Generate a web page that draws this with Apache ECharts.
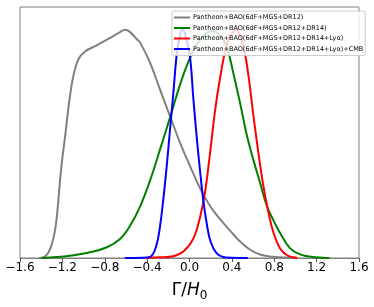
<!DOCTYPE html>
<html><head><meta charset="utf-8">
<script src="https://cdn.jsdelivr.net/npm/echarts@6/dist/echarts.min.js"></script>
<style>html,body{margin:0;padding:0;background:#fff}#c{width:374px;height:307px}</style>
</head><body><div id="c"></div>
<script>
const seriesNames = [
  'Pantheon+BAO(6dF+MGS+DR12)',
  'Pantheon+BAO(6dF+MGS+DR12+DR14)',
  'Pantheon+BAO(6dF+MGS+DR12+DR14+Lyα)',
  'Pantheon+BAO(6dF+MGS+DR12+DR14+Lyα)+CMB'
];
const xTicks = [-1.6, -1.2, -0.8, -0.4, 0.0, 0.4, 0.8, 1.2, 1.6];

const grayX = [-1.42,-1.37,-1.33,-1.30,-1.27,-1.25,-1.222,-1.2,-1.175,-1.153,-1.128,-1.097,-1.05,-0.986,-0.876,-0.766,-0.656,-0.61,-0.56,-0.5,-0.467,-0.372,-0.278,-0.184,-0.089,0.005,0.1,0.194,0.289,0.383,0.477,0.572,0.666,0.79,0.95,1.0];
const grayY = [0,0.005,0.025,0.06,0.12,0.19,0.34,0.44,0.53,0.62,0.71,0.796,0.87,0.905,0.932,0.96,0.99,1.0,0.99,0.96,0.945,0.855,0.738,0.621,0.505,0.403,0.305,0.228,0.17,0.12,0.072,0.036,0.015,0.005,0.001,0];

const greenX = [-1.40,-1.25,-1.128,-0.939,-0.78,-0.656,-0.561,-0.467,-0.372,-0.278,-0.184,-0.089,0.005,0.1,0.21,0.289,0.352,0.414,0.477,0.54,0.603,0.666,0.729,0.792,0.855,0.95,1.05,1.15,1.26,1.32];
const greenY = [0,0.004,0.01,0.025,0.047,0.083,0.141,0.225,0.34,0.476,0.615,0.76,0.877,0.956,0.995,0.975,0.925,0.81,0.68,0.54,0.43,0.33,0.23,0.165,0.11,0.042,0.015,0.005,0.001,0];

const redX = [-0.42,-0.28,-0.152,-0.058,0.036,0.1,0.147,0.194,0.241,0.289,0.352,0.414,0.44,0.461,0.509,0.556,0.603,0.65,0.697,0.745,0.792,0.855,0.92,0.98,1.02];
const redY = [0,0.003,0.008,0.028,0.085,0.18,0.29,0.46,0.645,0.79,0.935,0.993,1.0,0.99,0.93,0.80,0.625,0.462,0.316,0.2,0.112,0.042,0.012,0.003,0];

const blueX = [-0.61,-0.45,-0.372,-0.316,-0.278,-0.247,-0.215,-0.184,-0.152,-0.12,-0.09,-0.064,-0.035,0.005,0.036,0.068,0.1,0.131,0.163,0.2,0.257,0.32,0.4,0.55];
const blueY = [0,0.001,0.005,0.05,0.14,0.258,0.403,0.563,0.725,0.895,0.975,1.0,0.97,0.88,0.70,0.53,0.38,0.25,0.15,0.07,0.02,0.004,0.001,0];

const colors = ['#808080','#008000','#ff0000','#0000ff'];
const xs = [grayX, greenX, redX, blueX];
const ys = [grayY, greenY, redY, blueY];

const chart = echarts.init(document.getElementById('c'));
chart.setOption({
  animation: false,
  grid: {left: 20, right: 15, top: 7, bottom: 48, show: true, borderColor: '#808080', borderWidth: 1, containLabel: false},
  legend: {
    orient: 'vertical', left: 172, top: 11,
    data: seriesNames.map(n => ({name: n, icon: 'rect'})),
    itemWidth: 16, itemHeight: 2, itemGap: 3.5,
    padding: [3, 2, 3, 2],
    backgroundColor: 'rgba(255,255,255,0.8)',
    borderColor: '#cccccc', borderWidth: 1, borderRadius: 2,
    textStyle: {fontSize: 6.5, fontFamily: 'DejaVu Sans', color: '#000', padding: [0,0,0,-2], lineHeight: 6}
  },
  xAxis: {
    type: 'value', min: -1.6, max: 1.6, interval: 0.4,
    axisLine: {show: true, lineStyle: {color: '#808080'}},
    axisTick: {show: true, length: 4, lineStyle: {color: '#555'}},
    splitLine: {show: false},
    axisLabel: {fontSize: 12, fontFamily: 'DejaVu Sans', color: '#000', margin: 4,
      formatter: v => { const t = xTicks.find(k => Math.abs(k - v) < 1e-6); const val = t === undefined ? v : t; return (val < 0 ? '\u2212' : '') + Math.abs(val).toFixed(1); }},
    name: '{a|Γ/}{b|H}{c|0}', nameLocation: 'middle', nameGap: 22,
    nameTextStyle: {rich: {
      a: {fontSize: 17, fontFamily: 'DejaVu Sans', color: '#000'},
      b: {fontSize: 17, fontFamily: 'DejaVu Sans', fontStyle: 'italic', color: '#000'},
      c: {fontSize: 12, fontFamily: 'DejaVu Sans', color: '#000', padding: [10,0,0,0]}
    }}
  },
  yAxis: {
    type: 'value', min: 0, max: 1.1,
    axisLine: {show: false},
    axisTick: {show: false}, axisLabel: {show: false}, splitLine: {show: false}
  },
  series: seriesNames.map((n, i) => ({
    name: n, type: 'line', showSymbol: false, symbol: 'none',
    smooth: 0.4,
    lineStyle: {color: colors[i], width: 2},
    itemStyle: {color: colors[i]},
    data: xs[i].map((x, j) => [x, ys[i][j]])
  }))
});
</script></body></html>
